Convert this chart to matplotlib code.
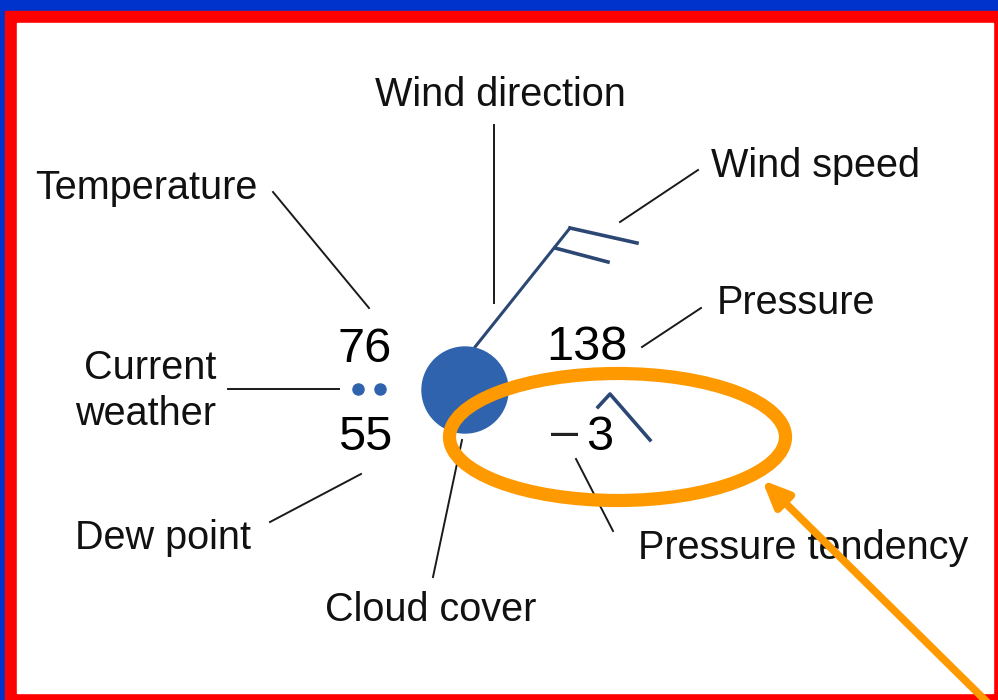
import matplotlib.pyplot as plt
from matplotlib.patches import Rectangle, Circle, Ellipse

plt.rcParams['font.family'] = ['Liberation Sans', 'DejaVu Sans']

# station values
temperature = '76'
dew_point = '55'
pressure = '138'
tendency_sign = '\u2013'
tendency = '3'

# labels around the station model
labels = ['Wind direction', 'Temperature', 'Wind speed', 'Pressure',
          'Current\nweather', 'Dew point', 'Cloud cover', 'Pressure tendency']
label_xy = [(500, 95), (35, 188), (711, 166), (717, 303),
            (216, 391), (75, 538), (431, 610), (638, 548)]
label_ha = ['center', 'left', 'left', 'left', 'right', 'left', 'center', 'left']

# leader lines (start, end) in pixel coords
leaders = [((494, 125), (494, 303)),
           ((273, 192), (369, 308)),
           ((698, 170), (620, 222)),
           ((701, 308), (642, 347)),
           ((228, 389), (339, 389)),
           ((270, 522), (361, 474)),
           ((433, 577), (462, 440)),
           ((613, 531), (576, 459))]

fig = plt.figure(figsize=(9.98, 7), dpi=100)
ax = fig.add_axes([0, 0, 1, 1])
ax.set_xlim(0, 998)
ax.set_ylim(700, 0)
ax.axis('off')

# frame
ax.add_patch(Rectangle((0, 0), 998, 700, color='#0033cc', zorder=0))
ax.add_patch(Rectangle((5, 11), 993, 689, color='#ff0000', zorder=0))
ax.add_patch(Rectangle((17, 23), 976, 670, color='white', zorder=0))

# labels and leaders
for txt, (x, y), ha in zip(labels, label_xy, label_ha):
    ax.text(x, y, txt, ha=ha, va='center', fontsize=28.5, color='#111111',
            linespacing=1.25, multialignment=ha if ha != 'center' else 'center')
for (x0, y0), (x1, y1) in leaders:
    ax.plot([x0, x1], [y0, y1], color='#1a1a1a', lw=1.4)

# station circle (overcast)
ax.add_patch(Circle((465, 390), 43, color='#2f63ad', zorder=3))

# wind staff and barbs
navy = '#2c4774'
ax.plot([475, 570], [347, 228], color=navy, lw=2.2, zorder=2)
ax.plot([570, 637], [228, 243], color=navy, lw=2.6)
ax.plot([555, 608], [248, 262], color=navy, lw=2.6)

# pressure tendency symbol
ax.plot([598, 610, 650], [407, 394, 440], color=navy, lw=2.6)

# current weather dots
ax.plot([358, 380], [389, 389], 'o', color='#2f63ad', ms=8)

# numbers
ax.text(365, 350, temperature, ha='center', va='center', fontsize=35)
ax.text(365, 437, dew_point, ha='center', va='center', fontsize=35)
ax.text(587, 348, pressure, ha='center', va='center', fontsize=35)
ax.text(565, 434, tendency_sign, ha='center', va='center', fontsize=35, color='#222222')
ax.text(600, 438, tendency, ha='center', va='center', fontsize=35)

# orange highlight
orange = '#ff9900'
ax.add_patch(Ellipse((617.5, 437), 336, 127, fill=False, ec=orange, lw=9.5, zorder=5))
ax.annotate('', xy=(762, 480), xytext=(990, 705),
            arrowprops=dict(arrowstyle='-|>,head_length=1.6,head_width=0.7',
                            color=orange, lw=5.5, shrinkA=0, shrinkB=0),
            zorder=6, annotation_clip=False)

fig.savefig('out.png', dpi=100)
